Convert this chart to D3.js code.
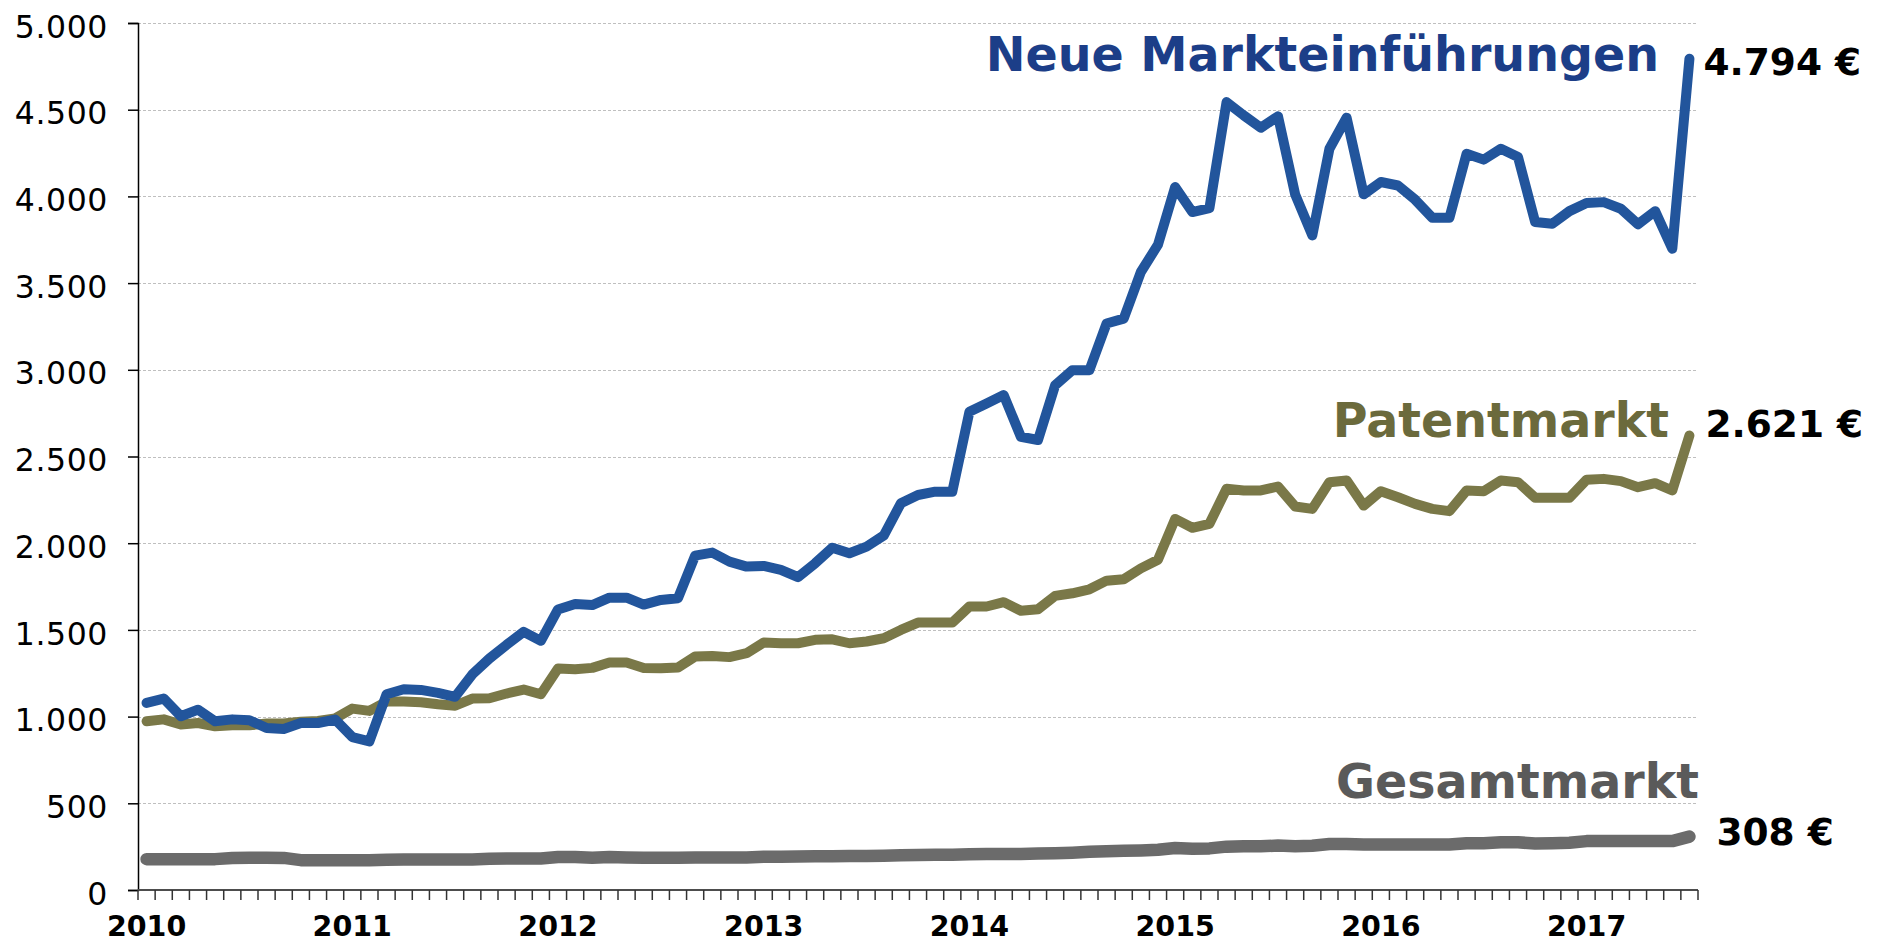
<!DOCTYPE html>
<html>
<head>
<meta charset="utf-8">
<script src="https://cdn.jsdelivr.net/npm/d3@7"></script>
<style>
  html, body { margin: 0; padding: 0; background: #ffffff; }
  svg { display: block; }
</style>
</head>
<body>
<svg id="chart" width="1881" height="943"></svg>
<script>
// ---------- DATA ----------
const startMonth = new Date(2010, 0, 1);
const endMonth = new Date(2017, 7, 1); // exclusive -> Jan 2010 .. Jul 2017
const yearLabels = ["2010", "2011", "2012", "2013", "2014", "2015", "2016", "2017"];
const yTicks = [0, 500, 1000, 1500, 2000, 2500, 3000, 3500, 4000, 4500, 5000];

const seriesNames = ["Neue Markteinführungen", "Patentmarkt", "Gesamtmarkt"];
const lastValueLabels = ["4.794 €", "2.621 €", "308 €"];

const neueMarkteinfuehrungen = [
  1079, 1104, 1002, 1040, 973, 984, 979, 934, 929, 963, 963, 983,
  882, 857, 1129, 1158, 1154, 1137, 1114, 1243, 1335, 1414, 1489, 1437,
  1618, 1649, 1643, 1686, 1686, 1646, 1673, 1683, 1928, 1946, 1894, 1865,
  1869, 1846, 1804, 1884, 1974, 1942, 1980, 2044, 2230, 2278, 2297, 2297,
  2758, 2806, 2854, 2614, 2595, 2911, 2998, 2998, 3267, 3295, 3564, 3722,
  4054, 3910, 3933, 4544, 4467, 4396, 4462, 4012, 3775, 4275, 4454, 4012,
  4083, 4063, 3981, 3877, 3877, 4246, 4212, 4275, 4227, 3852, 3842, 3915,
  3962, 3967, 3929, 3839, 3915, 3698, 4794
];

const patentmarkt = [
  973, 984, 954, 963, 944, 950, 950, 960, 960, 970, 975, 990,
  1046, 1033, 1087, 1087, 1083, 1071, 1063, 1104, 1106, 1133, 1156, 1129,
  1277, 1273, 1281, 1312, 1312, 1280, 1279, 1283, 1347, 1350, 1343, 1366,
  1427, 1423, 1423, 1443, 1446, 1423, 1433, 1452, 1500, 1542, 1542, 1542,
  1635, 1635, 1660, 1610, 1619, 1696, 1711, 1734, 1784, 1792, 1855, 1905,
  2140, 2089, 2112, 2314, 2304, 2304, 2327, 2212, 2198, 2352, 2362, 2217,
  2300, 2265, 2227, 2198, 2185, 2304, 2300, 2362, 2352, 2262, 2262, 2262,
  2366, 2371, 2358, 2323, 2346, 2304, 2621
];

const gesamtmarkt = [
  178, 178, 178, 178, 178, 185, 186, 186, 185, 172, 171, 171,
  171, 171, 175, 176, 176, 176, 176, 176, 180, 181, 182, 182,
  190, 190, 186, 190, 188, 186, 186, 186, 188, 188, 188, 188,
  192, 192, 193, 194, 195, 196, 196, 197, 200, 202, 203, 204,
  206, 207, 208, 208, 210, 212, 215, 220, 224, 226, 228, 232,
  242, 238, 240, 250, 252, 252, 256, 252, 255, 265, 265, 262,
  262, 262, 262, 262, 262, 270, 270, 275, 275, 268, 270, 272,
  282, 282, 282, 282, 282, 282, 308
];

// ---------- STYLE ----------
const lineColors = ["#22559C", "#7A7848", "#6B6B6B"];
const titleColors = ["#1C3E88", "#6B6A3C", "#5A5A5A"];
const lineWidths = [10, 10, 12.5];
const FONT = "'DejaVu Sans', Verdana, sans-serif";

// ---------- BUILD ----------
const months = d3.timeMonth.range(startMonth, endMonth);
const svg = d3.select("#chart");
svg.append("rect").attr("width", 1881).attr("height", 943).attr("fill", "#ffffff");

const plot = { left: 138, right: 1698, top: 23, bottom: 890 };

const x = d3.scaleBand()
  .domain(months.map(d => +d))
  .range([plot.left, plot.right])
  .paddingInner(0).paddingOuter(0);
const xc = d => x(+d) + x.bandwidth() / 2;

const y = d3.scaleLinear().domain([0, 5000]).range([plot.bottom, plot.top]);

const deLocale = d3.formatLocale({ decimal: ",", thousands: ".", grouping: [3], currency: ["", " €"] });
const fmt = deLocale.format(",.0f");

// gridlines
svg.append("g")
  .selectAll("line")
  .data(yTicks.filter(v => v > 0))
  .join("line")
  .attr("x1", plot.left).attr("x2", plot.right)
  .attr("y1", d => Math.round(y(d)) + 0.5).attr("y2", d => Math.round(y(d)) + 0.5)
  .attr("stroke", "#BFBFBF")
  .attr("stroke-width", 1.2)
  .attr("stroke-dasharray", "3,2");

// Y axis
const yAxis = d3.axisLeft(y).tickValues(yTicks).tickSize(10).tickPadding(20).tickFormat(fmt);
const gy = svg.append("g").attr("transform", `translate(${plot.left},0)`).call(yAxis);
gy.select(".domain").attr("stroke", "#000").attr("stroke-width", 1.5);
gy.selectAll(".tick line").attr("stroke", "#000").attr("stroke-width", 1.5);
gy.selectAll(".tick text")
  .attr("font-family", FONT).attr("font-size", 31.5).attr("fill", "#000")
  .attr("letter-spacing", "0.6px")
  .attr("dy", "0.45em");

// X axis (ticks at month boundaries)
const boundaries = d3.range(months.length + 1).map(i => plot.left + i * x.bandwidth());
const gx = svg.append("g");
gx.append("line")
  .attr("x1", plot.left).attr("x2", plot.right)
  .attr("y1", plot.bottom).attr("y2", plot.bottom)
  .attr("stroke", "#4D4D4D").attr("stroke-width", 2);
gx.selectAll("line.tk")
  .data(boundaries)
  .join("line").attr("class", "tk")
  .attr("x1", d => d).attr("x2", d => d)
  .attr("y1", plot.bottom).attr("y2", plot.bottom + 10)
  .attr("stroke", "#333").attr("stroke-width", 1.5);

const januaries = months.filter(d => d.getMonth() === 0);
gx.selectAll("text")
  .data(januaries)
  .join("text")
  .attr("x", d => xc(d))
  .attr("y", 936)
  .attr("text-anchor", "middle")
  .attr("font-family", FONT).attr("font-weight", "bold").attr("font-size", 28.5)
  .attr("fill", "#000")
  .text((d, i) => yearLabels[i]);

// Lines
const line = d3.line().x((d, i) => xc(months[i])).y(d => y(d));
const seriesArr = [neueMarkteinfuehrungen, patentmarkt, gesamtmarkt];
[2, 1, 0].forEach(k => {
  svg.append("path")
    .datum(seriesArr[k])
    .attr("d", line)
    .attr("fill", "none")
    .attr("stroke", lineColors[k])
    .attr("stroke-width", lineWidths[k])
    .attr("stroke-linejoin", "round")
    .attr("stroke-linecap", "round");
});

// Series titles
const titlePos = [
  { x: 1659, y: 71 },
  { x: 1669, y: 437 },
  { x: 1699, y: 798 }
];
seriesNames.forEach((name, k) => {
  svg.append("text")
    .attr("x", titlePos[k].x).attr("y", titlePos[k].y)
    .attr("text-anchor", "end")
    .attr("font-family", FONT).attr("font-weight", "bold").attr("font-size", 47.5)
    .attr("fill", titleColors[k])
    .text(name);
});

// Last-value labels
const lastIdx = months.length - 1;
const valOffsets = [{ dx: 14, y: 75 }, { dx: 16, y: 437 }, { dx: 27, y: 845 }];
lastValueLabels.forEach((lbl, k) => {
  svg.append("text")
    .attr("x", xc(months[lastIdx]) + valOffsets[k].dx)
    .attr("y", valOffsets[k].y)
    .attr("font-family", FONT).attr("font-weight", "bold").attr("font-size", 37.5)
    .attr("fill", "#000")
    .text(lbl);
});
</script>
</body>
</html>
